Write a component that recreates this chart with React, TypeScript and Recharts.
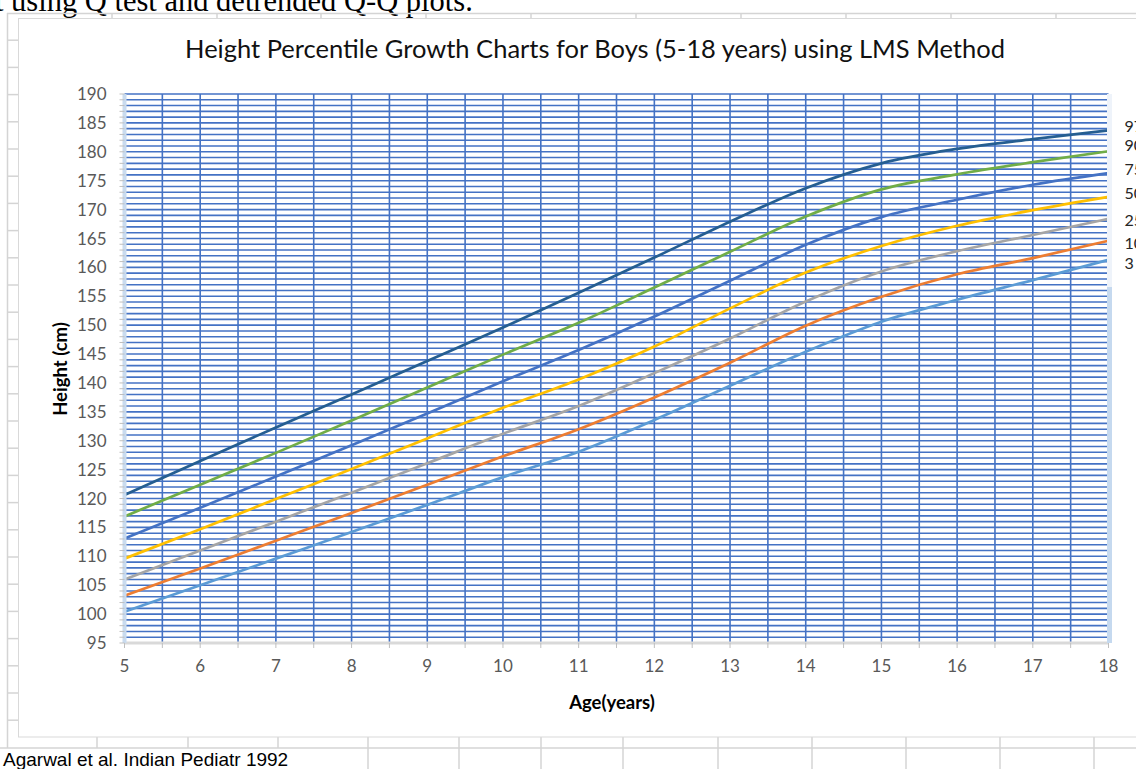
import { CartesianGrid, Line, LineChart, XAxis, YAxis } from 'recharts'

// age in years
const ages = [5, 6, 7, 8, 9, 10, 11, 12, 13, 14, 15, 16, 17, 18]

// height (cm) per percentile
const p97 = [120.6, 126.5, 132.3, 138.0, 143.8, 149.6, 155.6, 161.7, 167.9, 173.7, 178.0, 180.5, 182.2, 183.7]
const p90 = [116.9, 122.4, 127.9, 133.5, 139.2, 144.9, 150.4, 156.5, 162.7, 168.8, 173.5, 176.1, 178.2, 180.1]
const p75 = [113.1, 118.4, 123.8, 129.2, 134.7, 140.3, 145.7, 151.5, 157.7, 163.9, 168.7, 171.7, 174.3, 176.3]
const p50 = [109.6, 114.7, 119.9, 125.1, 130.4, 135.7, 140.6, 146.3, 152.9, 159.1, 163.7, 167.2, 169.9, 172.2]
const p25 = [106.0, 111.0, 116.0, 121.0, 126.1, 131.2, 136.0, 141.7, 147.7, 154.1, 159.3, 162.8, 165.6, 168.4]
const p10 = [103.2, 107.9, 112.7, 117.5, 122.4, 127.3, 132.0, 137.5, 143.5, 149.9, 154.9, 158.8, 161.6, 164.6]
const p3 = [100.4, 105.0, 109.6, 114.2, 118.9, 123.7, 128.1, 133.6, 139.5, 145.4, 150.6, 154.4, 157.8, 161.3]

const seriesNames = ['97', '90', '75', '50', '25', '10', '3']

// ticks: every half year on x, every cm on y (labels only on 5s)
const xTicks = Array.from({ length: 27 }, (_, i) => 5 + i * 0.5)
const yTicks = Array.from({ length: 96 }, (_, i) => 95 + i)

const rows = ages.map((age, i) => ({
  age,
  p97: p97[i],
  p90: p90[i],
  p75: p75[i],
  p50: p50[i],
  p25: p25[i],
  p10: p10[i],
  p3: p3[i],
}))

const seriesValues: Record<string, number[]> = { p97, p90, p75, p50, p25, p10, p3 }

const lineStyles = [
  { key: 'p97', color: '#255E91', labelDy: -5 },
  { key: 'p90', color: '#70AD47', labelDy: -7 },
  { key: 'p75', color: '#4472C4', labelDy: -5 },
  { key: 'p50', color: '#FFC000', labelDy: -4 },
  { key: 'p25', color: '#A5A5A5', labelDy: 1 },
  { key: 'p10', color: '#ED7D31', labelDy: 2 },
  { key: 'p3', color: '#5B9BD5', labelDy: 3 },
]

const font = 'Lato, "Open Sans", sans-serif'
const sheetLine = '#d4d4d4'

const topColTicks = [112, 217, 321, 426, 531, 636, 741, 846, 951, 1056]
const bottomColTicks = [97, 188, 278, 368, 459, 541, 623, 718, 812, 906, 1000, 1094]

function endLabel(key: string, name: string, dy: number) {
  const vals = seriesValues[key]
  const last = vals[vals.length - 1]
  return (props: any) => {
    if (props.value !== last) return null
    const x = props.x ?? props.viewBox?.x
    const y = props.y ?? props.viewBox?.y
    return (
      <text
        x={x + 16}
        y={y + dy}
        dominantBaseline="central"
        fontFamily={font}
        fontSize={16}
        fill="#262626"
      >
        {name}
      </text>
    )
  }
}

function SheetBackground() {
  const rowTicks = Array.from({ length: 26 }, (_, i) => 13 + (i + 1) * 27.2)
  return (
    <svg width={1136} height={769} style={{ position: 'absolute', left: 0, top: 0 }}>
      <text x={-5} y={11} fontFamily='"Liberation Serif", "Times New Roman", serif' fontSize={30.5} fill="#000">
        t using Q test and detrended Q-Q plots.
      </text>
      <line x1={7} y1={13.5} x2={1136} y2={13.5} stroke={sheetLine} strokeWidth={1.5} />
      <line x1={7.5} y1={13} x2={7.5} y2={748} stroke={sheetLine} strokeWidth={1.5} />
      {rowTicks.map((y) => (
        <line key={y} x1={7} y1={y} x2={18} y2={y} stroke={sheetLine} strokeWidth={1.5} />
      ))}
      {topColTicks.map((x) => (
        <line key={x} x1={x} y1={13} x2={x} y2={18} stroke={sheetLine} strokeWidth={1.5} />
      ))}
      <line x1={0} y1={748} x2={1136} y2={748} stroke={sheetLine} strokeWidth={1.5} />
      {bottomColTicks.map((x) => (
        <line key={x} x1={x} y1={737} x2={x} y2={x >= 368 ? 769 : 748} stroke={sheetLine} strokeWidth={1.5} />
      ))}
      <rect x={18.5} y={18.5} width={1130} height={718.5} fill="#fff" stroke="#d9d9d9" />
      <text x={595} y={58} textAnchor="middle" fontFamily={font} fontSize={25.5} fill="#111">
        Height Percentile Growth Charts for Boys (5-18 years) using LMS Method
      </text>
      <text
        x={60}
        y={369}
        transform="rotate(-90 60 369)"
        textAnchor="middle"
        dominantBaseline="central"
        fontFamily={font}
        fontWeight="bold"
        fontSize={18.5}
        fill="#000"
      >
        Height (cm)
      </text>
      <text x={612} y={709} textAnchor="middle" fontFamily={font} fontWeight="bold" fontSize={18.5} fill="#000">
        Age(years)
      </text>
      <text x={3} y={766} fontFamily='"Liberation Sans", Arial, sans-serif' fontSize={19} fill="#000">
        Agarwal et al. Indian Pediatr 1992
      </text>
    </svg>
  )
}

export default function App() {
  return (
    <div style={{ position: 'relative', width: 1136, height: 769, overflow: 'hidden', background: '#fff' }}>
      <style>{'body{margin:0;overflow:hidden}'}</style>
      <SheetBackground />
      <div style={{ position: 'absolute', left: 0, top: 0 }}>
        <LineChart
          width={1136}
          height={769}
          data={rows}
          margin={{ top: 94, right: 27.5, bottom: 86, left: 64.5 }}
        >
          <CartesianGrid stroke="#4472C4" strokeWidth={1.6} />
          <XAxis
            dataKey="age"
            type="number"
            domain={[5, 18]}
            ticks={xTicks}
            interval={0}
            height={40}
            tickFormatter={(v: number) => (Number.isInteger(v) ? String(v) : '')}
            axisLine={{ stroke: '#d9d9d9', strokeWidth: 3 }}
            tickLine={{ stroke: '#bfbfbf' }}
            tickSize={5}
            tickMargin={12}
            tick={{ fill: '#595959', fontSize: 17, fontFamily: font }}
          />
          <YAxis
            type="number"
            domain={[95, 190]}
            ticks={yTicks}
            interval={0}
            width={60}
            tickFormatter={(v: number) => (v % 5 === 0 ? String(v) : '')}
            axisLine={{ stroke: '#c9dbef', strokeWidth: 4 }}
            tickLine={{ stroke: '#bfbfbf' }}
            tickSize={5}
            tickMargin={13}
            tick={{ fill: '#595959', fontSize: 17, fontFamily: font }}
          />
          {lineStyles.map((s, i) => (
            <Line
              key={s.key}
              type="monotone"
              dataKey={s.key}
              stroke={s.color}
              strokeWidth={2.7}
              dot={false}
              isAnimationActive={false}
              label={endLabel(s.key, seriesNames[i], s.labelDy)}
            />
          ))}
        </LineChart>
      </div>
      <div style={{ position: 'absolute', left: 1107, top: 94, width: 5, height: 193, background: '#eef3fa' }} />
      <div style={{ position: 'absolute', left: 1107, top: 287, width: 5, height: 356, background: '#c5d9ef' }} />
    </div>
  )
}
